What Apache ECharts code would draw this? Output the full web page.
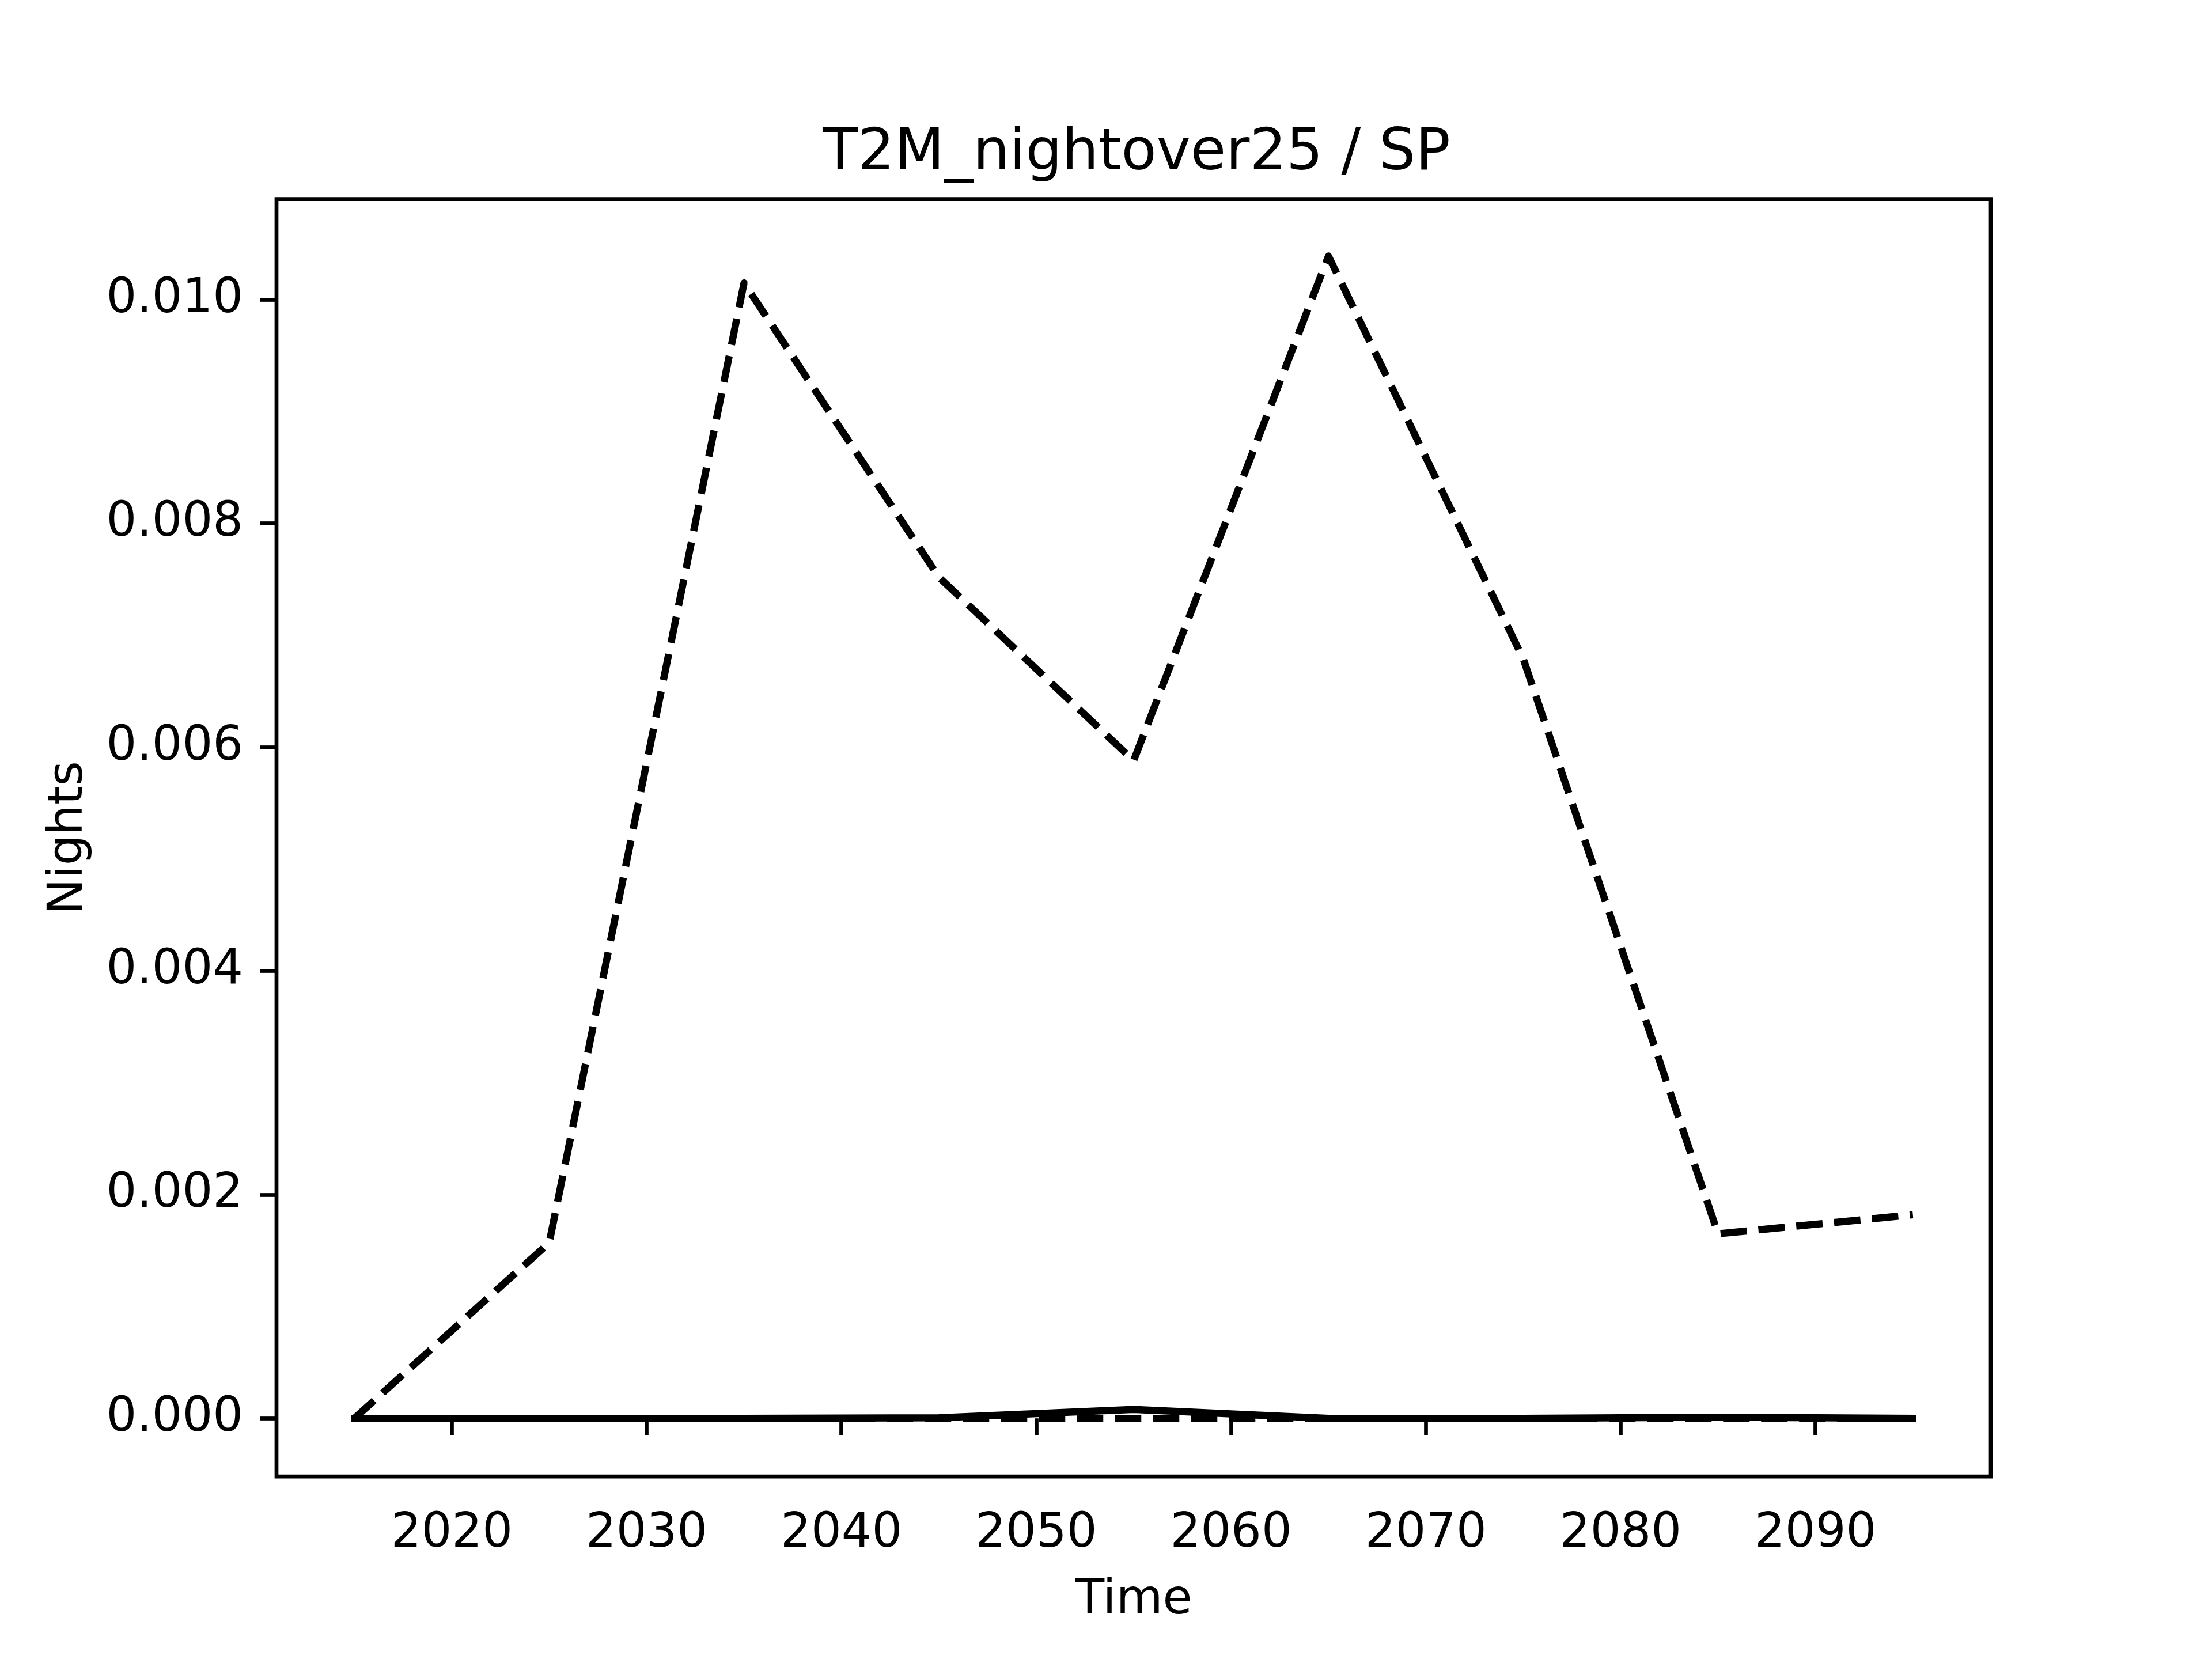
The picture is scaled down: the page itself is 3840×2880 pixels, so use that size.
<!DOCTYPE html>
<html>
<head>
<meta charset="utf-8">
<script src="https://cdn.jsdelivr.net/npm/echarts@6/dist/echarts.min.js"></script>
<style>
  html, body { margin: 0; padding: 0; background: #ffffff; }
  #chart { width: 3840px; height: 2880px; }
</style>
</head>
<body>
<div id="chart"></div>
<script>
// ---- data ----
const years = [2015, 2025, 2035, 2045, 2055, 2065, 2075, 2085, 2095];
const dashedHigh = [0.0, 0.00157, 0.01015, 0.00752, 0.00588, 0.01039, 0.00679, 0.00165, 0.00182];
const solidLow   = [0.0, 0.0, 0.0, 0.000005, 0.00008, 0.0, 0.0, 0.00001, 0.0];
const dashedZero = [0.0, 0.0, 0.0, 0.0, 0.0, 0.0, 0.0, 0.0, 0.0];
const xTicks = [2020, 2030, 2040, 2050, 2060, 2070, 2080, 2090];
const yTicks = [0.000, 0.002, 0.004, 0.006, 0.008, 0.010];
const titleText = 'T2M_nightover25 / SP';
const xName = 'Time';
const yName = 'Nights';

const pairs = (vals) => years.map((y, i) => [y, vals[i]]);

const FONT = 'DejaVu Sans';
const LW = 12.5;
const DASH = [46, 20];

const chart = echarts.init(document.getElementById('chart'), null, { renderer: 'canvas' });

chart.setOption({
  animation: false,
  backgroundColor: '#ffffff',
  title: {
    text: titleText,
    left: 1968,
    top: 213,
    textAlign: 'center',
    textStyle: { fontFamily: FONT, fontSize: 100, fontWeight: 'normal', color: '#000000' }
  },
  grid: {
    left: 480, right: 384, top: 345.6, bottom: 316.8,
    show: true, borderColor: '#000000', borderWidth: 6.7, backgroundColor: 'transparent'
  },
  xAxis: {
    type: 'value',
    min: 2011, max: 2099,
    name: xName,
    nameLocation: 'middle',
    nameGap: 175,
    nameTextStyle: { fontFamily: FONT, fontSize: 83, color: '#000000' },
    axisLine: { show: false },
    axisTick: { show: true, length: 29, customValues: xTicks, lineStyle: { color: '#000000', width: 6.7 } },
    axisLabel: {
      customValues: xTicks, margin: 59,
      fontFamily: FONT, fontSize: 83, color: '#000000',
      formatter: (v) => String(v)
    },
    splitLine: { show: false }
  },
  yAxis: {
    type: 'value',
    min: -0.00052, max: 0.0109,
    name: yName,
    nameLocation: 'middle',
    nameRotate: 90,
    nameGap: 318,
    nameTextStyle: { fontFamily: FONT, fontSize: 83, color: '#000000' },
    axisLine: { show: false },
    axisTick: { show: true, length: 29, customValues: yTicks, lineStyle: { color: '#000000', width: 6.7 } },
    axisLabel: {
      customValues: yTicks, margin: 58,
      fontFamily: FONT, fontSize: 83, color: '#000000',
      padding: [14, 0, 0, 0],
      formatter: (v) => Number(v).toFixed(3)
    },
    splitLine: { show: false }
  },
  series: [
    {
      name: 'dashed high', type: 'line', data: pairs(dashedHigh),
      showSymbol: false, symbol: 'none',
      lineStyle: { color: '#000000', width: LW, type: DASH, cap: 'butt', join: 'round' }
    },
    {
      name: 'dashed zero', type: 'line', data: pairs(dashedZero),
      showSymbol: false, symbol: 'none',
      lineStyle: { color: '#000000', width: LW, type: DASH, cap: 'butt', join: 'round' }
    },
    {
      name: 'solid', type: 'line', data: pairs(solidLow),
      showSymbol: false, symbol: 'none',
      lineStyle: { color: '#000000', width: LW, type: 'solid', cap: 'square', join: 'round' }
    }
  ]
});
</script>
</body>
</html>
